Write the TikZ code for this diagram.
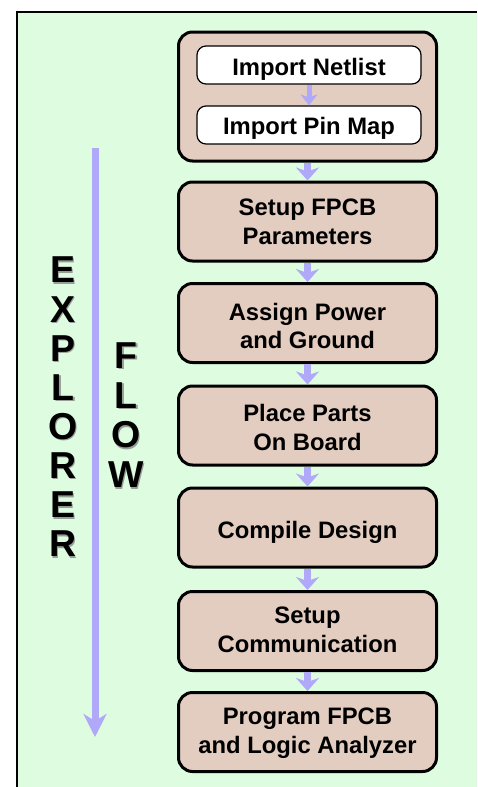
\documentclass[tikz,border=0pt]{standalone}
\usepackage{fontspec}
\setmainfont{Liberation Sans}
\usetikzlibrary{arrows.meta}

\definecolor{panelgreen}{RGB}{222,252,224}
\definecolor{stepfill}{RGB}{227,205,192}
\definecolor{flowarrow}{RGB}{176,168,248}
\definecolor{lettershade}{RGB}{150,158,150}

% each caption line is smashed, so a caption node is centred between the
% baselines of its first and last line; the cap block then sits 8.5pt higher
\newcommand{\capline}[1]{\smash{#1}}

\begin{document}
\begin{tikzpicture}[x=1pt,y=-1pt,
  stepbox/.style={draw=black, line width=3pt, fill=stepfill, rounded corners=14pt,
    minimum width=258pt, minimum height=79pt, inner sep=0pt},
  groupbox/.style={draw=black, line width=3pt, fill=stepfill, rounded corners=14pt,
    minimum width=258pt, minimum height=129pt, inner sep=0pt},
  substep/.style={draw=black, line width=1.2pt, fill=white, rounded corners=9pt,
    minimum width=224pt, minimum height=38pt, inner sep=0pt},
  steptext/.style={inner sep=0pt, align=center,
    font=\bfseries\fontsize{23.8}{28.5}\selectfont},
  flowstep/.style={draw=flowarrow, line width=7pt,
    -{Stealth[length=13pt,width=23pt,inset=4pt]}},
  flowsub/.style={draw=flowarrow, line width=5pt,
    -{Stealth[length=11pt,width=17pt,inset=3pt]}},
  flowlong/.style={draw=flowarrow, line width=7pt,
    -{Stealth[length=23pt,width=23pt,inset=7pt]}},
  bigletter/.style={inner sep=0pt, font=\bfseries\fontsize{37.5}{37.5}\selectfont},
  bigshade/.style={bigletter, text=lettershade, xshift=1.5pt, yshift=-1.5pt},
]
\useasboundingbox (0,0) rectangle (477,787);
\fill[white] (0,0) rectangle (477,787);

% panel background with its left and top rules
\fill[panelgreen] (17,12) rectangle (477,787);
\draw[line width=2.2pt] (17,787) -- (17,12) -- (477,12);

% import group
\node[groupbox] (import) at (307.5,96.5) {};
\node[substep] (netlist) at (309,65) {};
\node[substep] (pinmap) at (309,125) {};
\node[steptext, yshift=-10.5pt] (netlist-text) at (netlist.center) {\capline{Import Netlist}};
\node[steptext, yshift=-9.3pt] (pinmap-text) at (pinmap.center) {\capline{Import Pin Map}};
\draw[flowsub] (netlist.south) -- (pinmap.north);

% main steps
\node[stepbox] (setup) at (307.5,221.5) {};
\node[stepbox] (power) at (307.5,323) {};
\node[stepbox] (place) at (307.5,425.5) {};
\node[stepbox] (compile) at (307.5,527.5) {};
\node[stepbox] (comm) at (307.5,631) {};
\node[stepbox] (program) at (307.5,732) {};

\node[steptext, yshift=-8.3pt] (setup-text) at (setup.center)
  {\capline{Setup FPCB}\\\capline{Parameters}};
\node[steptext, yshift=-11.5pt] (power-text) at (power.center)
  {\capline{Assign Power}\\\capline{and Ground}};
\node[steptext, yshift=-10.5pt] (place-text) at (place.center)
  {\capline{Place Parts}\\\capline{On Board}};
\node[steptext, yshift=-10.5pt] (compile-text) at (compile.center)
  {\capline{Compile Design}};
\node[steptext, yshift=-6.8pt] (comm-text) at (comm.center)
  {\capline{Setup}\\\capline{Communication}};
\node[steptext, yshift=-6.8pt] (program-text) at (program.center)
  {\capline{Program FPCB}\\\capline{and Logic Analyzer}};

\draw[flowstep] (import.south) -- (setup.north);
\draw[flowstep] (setup.south) -- (power.north);
\draw[flowstep] (power.south) -- (place.north);
\draw[flowstep] (place.south) -- (compile.north);
\draw[flowstep] (compile.south) -- (comm.north);
\draw[flowstep] (comm.south) -- (program.north);

% long flow arrow on the left
\coordinate (flowtop) at (95,148);
\coordinate (flowend) at (95,737);
\draw[flowlong] (flowtop) -- (flowend);

% vertical captions
\foreach \ch [count=\i] in {E,X,P,L,O,R,E,R} {
  \node[bigshade] at (63,{270+(\i-1)*39.1}) {\ch};
  \node[bigletter] (explorer\i) at (63,{270+(\i-1)*39.1}) {\ch};
}
\foreach \ch [count=\i] in {F,L,O,W} {
  \node[bigshade] at (126,{355.5+(\i-1)*39.7}) {\ch};
  \node[bigletter] (flow\i) at (126,{355.5+(\i-1)*39.7}) {\ch};
}
\end{tikzpicture}
\end{document}
